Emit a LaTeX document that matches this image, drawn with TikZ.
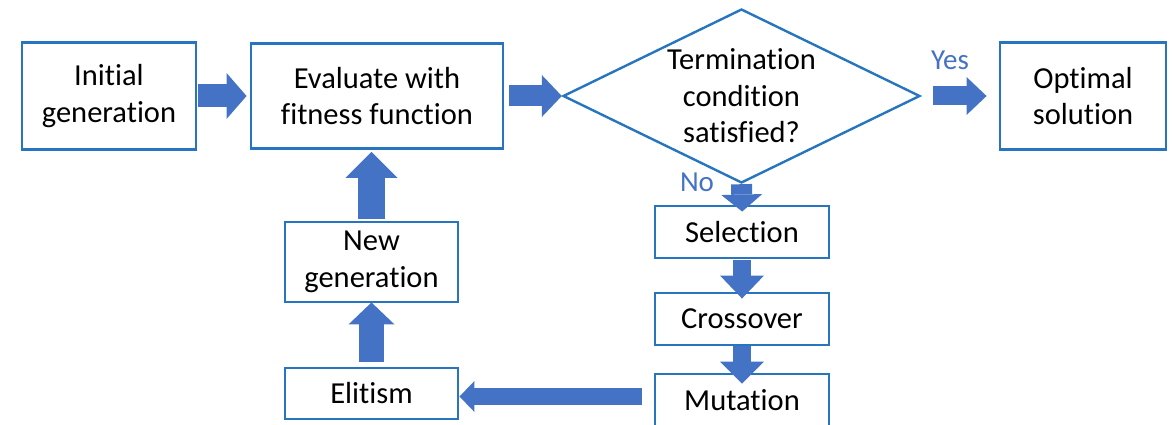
\documentclass[tikz,border=0pt]{standalone}
\usepackage{fontspec}
\setmainfont{Carlito}[Ligatures=NoCommon]
\usetikzlibrary{arrows.meta,shapes.geometric}
\definecolor{boxblue}{RGB}{38,117,190}
\definecolor{arrblue}{RGB}{68,114,196}
\begin{document}
\begin{tikzpicture}[x=1pt,y=-1pt,
  txt/.style={font=\fontsize{30.5}{36.5}\selectfont, align=center, text=black},
  box/.style={txt, draw=boxblue, line width=2.9pt, inner sep=0pt},
  dia/.style={draw=boxblue, line width=2.4pt, diamond, inner sep=0pt},
  lbl/.style={font=\fontsize{29}{34}\selectfont, text=arrblue, anchor=base},
  blk/.style n args={3}{draw=arrblue, line width=#1,
    -{Triangle[width=#2,length=#3,line width=0pt]}}
]
\useasboundingbox (0,0) rectangle (1173,425);

\node[box, minimum width=174pt, minimum height=107pt] (init) at (109,96) {Initial\\generation};
\node[box, minimum width=252pt, minimum height=105pt] (eval) at (377,96) {Evaluate with\\fitness function};
\node[dia, minimum width=357pt, minimum height=174pt] (cond) at (741.5,96) {};
\node[txt] (condt) at (cond.center) {Termination\\condition\\satisfied?};
\node[box, minimum width=166pt, minimum height=107pt] (opt) at (1083,96) {Optimal\\solution};
\node[box, minimum width=174pt, minimum height=52pt] (sel) at (742,232) {Selection};
\node[box, minimum width=174pt, minimum height=52pt] (cross) at (742,319) {Crossover};
\node[box, minimum width=174pt, minimum height=52pt] (mut) at (742,400) {Mutation};
\node[box, minimum width=173pt, minimum height=80pt] (newg) at (371.5,262) {New\\generation};
\node[box, minimum width=173pt, minimum height=51pt] (elit) at (371.5,393.5) {Elitism};

\node[lbl] (yes) at (950,70) {Yes};
\node[lbl] (no) at (697,192) {No};

\draw[blk={23pt}{46pt}{20pt}, shorten <=1pt, shorten >=3pt] (init.east) -- (eval.west);
\draw[blk={21pt}{42pt}{20pt}, shorten <=5pt] (eval.east) -- (cond.west);
\draw[blk={19pt}{38pt}{20pt}, shorten <=12pt, shorten >=12pt] (cond.east) -- (opt.west);
\draw[blk={21pt}{41pt}{17pt}, shorten >=-7pt] (cond.south) -- (sel.north);
\draw[blk={18pt}{44pt}{23pt}, shorten <=1pt, shorten >=-7pt] (sel.south) -- (cross.north);
\draw[blk={18pt}{44pt}{22pt}, shorten >=-11pt] (cross.south) -- (mut.north);
\draw[blk={17pt}{31pt}{15pt}, shorten <=12pt] ([yshift=3.5pt]mut.west) -- ([yshift=-3pt]elit.east);
\draw[blk={25pt}{46pt}{22pt}, shorten <=5pt, shorten >=-1pt] (elit.north) -- (newg.south);
\draw[blk={27pt}{52pt}{26pt}, shorten <=2pt, shorten >=2pt] (newg.north) -- (newg.north |- eval.south);
\end{tikzpicture}
\end{document}
